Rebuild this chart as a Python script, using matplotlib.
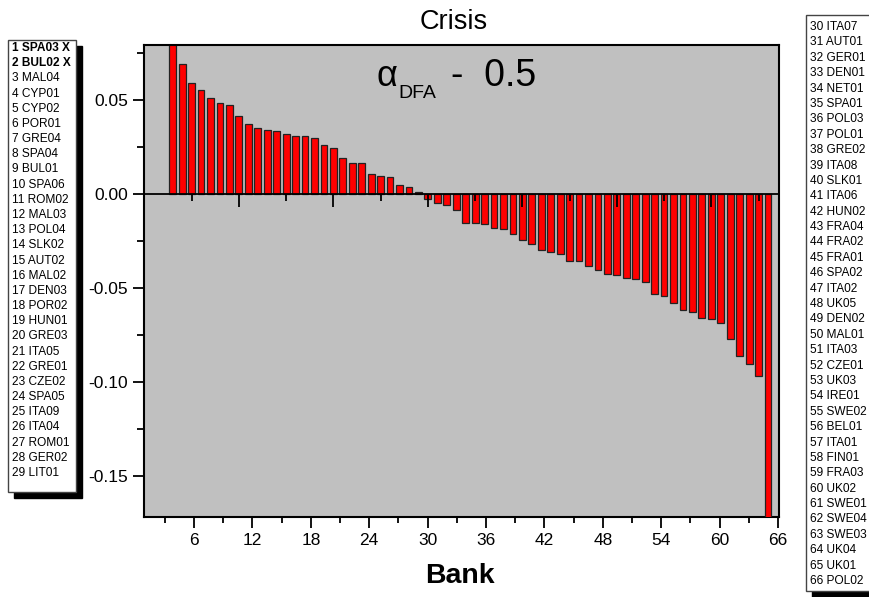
import numpy as np
import matplotlib.pyplot as plt
from matplotlib.patches import Rectangle
from matplotlib.ticker import MultipleLocator, FormatStrFormatter

plt.rcParams['font.family'] = ['Liberation Sans', 'DejaVu Sans']
plt.rcParams['axes.unicode_minus'] = False

# bank list (1 and 2 are excluded, marked X)
banks_left = ['1 SPA03 X', '2 BUL02 X', '3 MAL04', '4 CYP01', '5 CYP02', '6 POR01', '7 GRE04',
              '8 SPA04', '9 BUL01', '10 SPA06', '11 ROM02', '12 MAL03', '13 POL04', '14 SLK02',
              '15 AUT02', '16 MAL02', '17 DEN03', '18 POR02', '19 HUN01', '20 GRE03', '21 ITA05',
              '22 GRE01', '23 CZE02', '24 SPA05', '25 ITA09', '26 ITA04', '27 ROM01', '28 GER02',
              '29 LIT01']
banks_right = ['30 ITA07', '31 AUT01', '32 GER01', '33 DEN01', '34 NET01', '35 SPA01', '36 POL03',
               '37 POL01', '38 GRE02', '39 ITA08', '40 SLK01', '41 ITA06', '42 HUN02', '43 FRA04',
               '44 FRA02', '45 FRA01', '46 SPA02', '47 ITA02', '48 UK05', '49 DEN02', '50 MAL01',
               '51 ITA03', '52 CZE01', '53 UK03', '54 IRE01', '55 SWE02', '56 BEL01', '57 ITA01',
               '58 FIN01', '59 FRA03', '60 UK02', '61 SWE01', '62 SWE04', '63 SWE03', '64 UK04',
               '65 UK01', '66 POL02']

bank_no = np.arange(3, 67)
# alpha_DFA - 0.5 for banks 3..66
alpha_diff = [0.085, 0.069, 0.059, 0.055, 0.051, 0.048, 0.047, 0.0415, 0.037, 0.035,
              0.034, 0.0333, 0.0317, 0.0305, 0.0305, 0.0293, 0.026, 0.024, 0.0188, 0.0165,
              0.0165, 0.0106, 0.0094, 0.0087, 0.0046, 0.0036, 0.0007, -0.0028, -0.005, -0.006,
              -0.0089, -0.0156, -0.0156, -0.016, -0.0184, -0.0191, -0.0216, -0.0245, -0.0266, -0.0301,
              -0.031, -0.0319, -0.0358, -0.036, -0.0383, -0.0404, -0.0429, -0.0431, -0.0449, -0.0452,
              -0.0468, -0.0535, -0.0546, -0.0584, -0.0621, -0.0628, -0.0663, -0.0667, -0.0688, -0.0773,
              -0.0865, -0.0904, -0.0968, -0.18]

W, H = 869, 597
fig = plt.figure(figsize=(W / 100, H / 100), dpi=100)

def fx(x):
    return x / W

def fy(y):
    return 1 - y / H

ax = fig.add_axes([fx(144), fy(517), (779 - 144) / W, (517 - 45) / H])
ax.set_facecolor('#c0c0c0')
ax.bar(bank_no, alpha_diff, width=0.72, color='#ff0000', edgecolor='#222222', linewidth=0.9)
ax.set_xlim(-0.04, 67.16)
ax.set_ylim(-0.172, 0.079)

# axis through zero, ticks every 5 banks
ax.spines['bottom'].set_position(('data', 0))
ax.spines['bottom'].set_linewidth(1.3)
ax.xaxis.set_major_locator(MultipleLocator(10))
ax.xaxis.set_minor_locator(MultipleLocator(5))
ax.tick_params(axis='x', which='major', direction='out', length=9, width=1.3, labelbottom=False)
ax.tick_params(axis='x', which='minor', direction='out', length=5, width=1.3)
for s in ['top', 'left', 'right']:
    ax.spines[s].set_linewidth(1.5)

ax.yaxis.set_major_locator(MultipleLocator(0.05))
ax.yaxis.set_minor_locator(MultipleLocator(0.025))
ax.yaxis.set_major_formatter(FormatStrFormatter('%.2f'))
ax.tick_params(axis='y', which='major', direction='out', length=8, width=1.3, labelsize=12.5)
ax.tick_params(axis='y', which='minor', direction='out', length=5, width=1.3)

# bottom scale as in the original plot
a, c = 0.9708, 0.899
sec = ax.secondary_xaxis('bottom', functions=(lambda b: a * b + c, lambda l: (l - c) / a))
sec.set_xticks(range(6, 67, 6))
sec.xaxis.set_minor_locator(MultipleLocator(3))
sec.tick_params(which='major', direction='out', length=8, width=1.3, labelsize=12.5)
sec.tick_params(which='minor', direction='out', length=4, width=1.3)
sec.spines['bottom'].set_linewidth(1.5)

fig.text(fx(454), fy(22), 'Crisis', ha='center', va='center', fontsize=19.5)
fig.text(fx(460), fy(576), 'Bank', ha='center', va='center', fontsize=20.5, fontweight='bold')

fig.text(fx(377), fy(77), '\u03b1', ha='left', va='center', fontsize=26)
fig.text(fx(398), fy(94), 'DFA', ha='left', va='center', fontsize=14)
fig.text(fx(451), fy(76), '-  0.5', ha='left', va='center', fontsize=27)

# bank lists
def bank_box(x0, y0, x1, y1, labels, ty0, dy, nbold):
    fig.add_artist(Rectangle((fx(x0 + 6), fy(y1 + 6)), (x1 - x0) / W, (y1 - y0) / H,
                             transform=fig.transFigure, facecolor='black', edgecolor='black'))
    fig.add_artist(Rectangle((fx(x0), fy(y1)), (x1 - x0) / W, (y1 - y0) / H,
                             transform=fig.transFigure, facecolor='white', edgecolor='#444444',
                             linewidth=1.0))
    for i, lab in enumerate(labels):
        fig.text(fx(x0 + 4), fy(ty0 + i * dy), lab, ha='left', va='center', fontsize=8.6,
                 fontweight='bold' if i < nbold else 'normal')

bank_box(8, 40, 76, 492, banks_left, 48, 15.18, 2)
bank_box(806, 15, 880, 591, banks_right, 27, 15.39, 0)

fig.savefig('out.png', dpi=100)
